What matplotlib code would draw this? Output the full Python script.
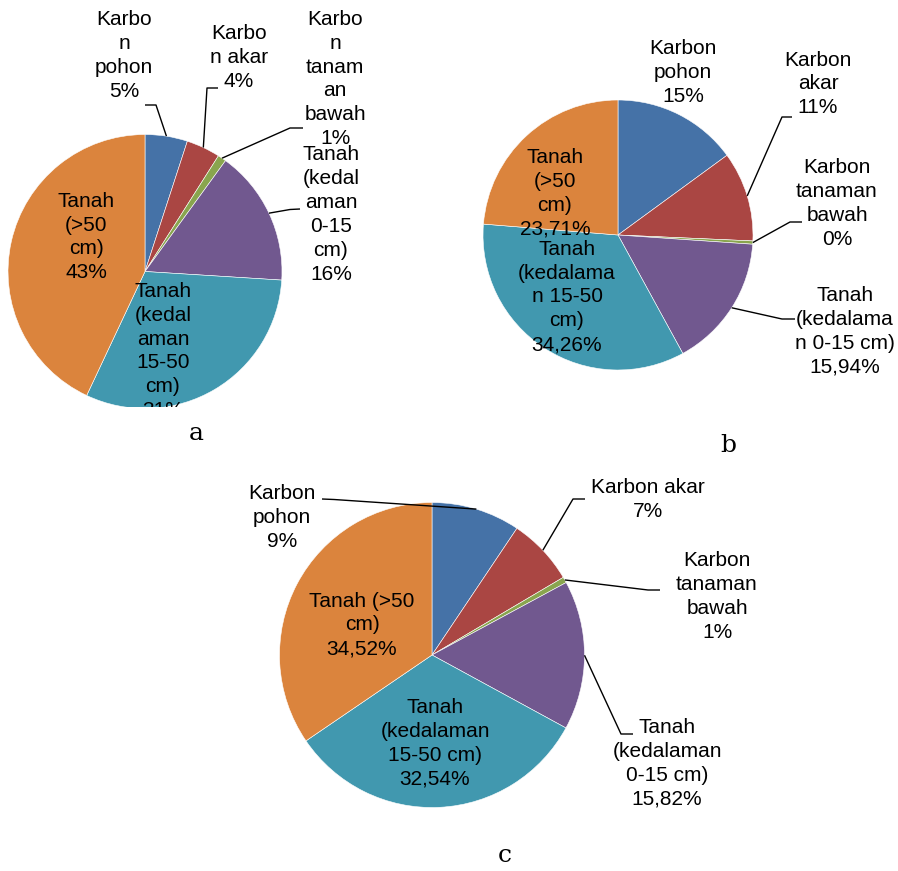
import matplotlib
matplotlib.use("Agg")
import matplotlib.pyplot as plt
from matplotlib.transforms import Bbox, TransformedBbox
import numpy as np

W, H = 898, 871
plt.rcParams['font.family'] = ['Liberation Sans', 'DejaVu Sans']

colors = ['#4572A7', '#AA4643', '#89A54E', '#71588F', '#4198AF', '#DB843D']

# --- data -------------------------------------------------------------
values_a = [5, 4, 1, 16, 31, 43]
values_b = [14.95, 10.75, 0.39, 15.94, 34.26, 23.71]
values_c = [9.4, 7.1, 0.62, 15.82, 32.54, 34.52]

decimals_a = [0, 0, 0, 0, 0, 0]
decimals_b = [0, 0, 0, 2, 2, 2]
decimals_c = [0, 0, 0, 2, 2, 2]

names_a = ["Karbo\nn\npohon", "Karbo\nn akar", "Karbo\nn\ntanam\nan\nbawah",
           "Tanah\n(kedal\naman\n0-15\ncm)", "Tanah\n(kedal\naman\n15-50\ncm)",
           "Tanah\n(>50\ncm)"]
names_b = ["Karbon\npohon", "Karbon\nakar", "Karbon\ntanaman\nbawah",
           "Tanah\n(kedalama\nn 0-15 cm)", "Tanah\n(kedalama\nn 15-50\ncm)",
           "Tanah\n(>50\ncm)"]
names_c = ["Karbon\npohon", "Karbon akar", "Karbon\ntanaman\nbawah",
           "Tanah\n(kedalaman\n0-15 cm)", "Tanah\n(kedalaman\n15-50 cm)",
           "Tanah (>50\ncm)"]

# --- layout (pixel coordinates, y measured from the top) ---------------
pies = [
    dict(vals=values_a, dec=decimals_a, names=names_a, center=(145, 271.5), r=137,
         pos=[(124, 55.5), (239, 57.5), (335, 79), (331, 214.5), (163, 351), (86, 237)],
         elbow={0: [(145, 105), (156, 105)], 1: [(218, 88), (207, 88)],
                2: [(303, 128), (290, 128)], 3: [(300, 209), (290, 209.5)]},
         clip_bottom=407, tag=('a', 196, 434)),
    dict(vals=values_b, dec=decimals_b, names=names_b, center=(618, 235), r=135,
         pos=[(683, 72.5), (818, 84), (837, 203.5), (845, 331.5), (567, 297), (555, 193.5)],
         elbow={1: [(792, 117), (782, 117)], 2: [(802, 222), (790, 222)],
                3: [(795, 319), (782, 319)]},
         clip_bottom=None, tag=('b', 728, 446)),
    dict(vals=values_c, dec=decimals_c, names=names_c, center=(432, 655), r=152.5,
         pos=[(282, 517.5), (648, 499.5), (717, 596.5), (667, 763.5), (435, 743.5), (362, 625)],
         elbow={0: [(322, 499), (334, 499.5)], 1: [(585, 499), (573, 499)],
                2: [(660, 590), (648, 590)], 3: [(633, 734), (621, 734)]},
         clip_bottom=None, tag=('c', 505, 855)),
]

fig = plt.figure(figsize=(W / 100, H / 100), dpi=100)
ax = fig.add_axes([0, 0, 1, 1])


def fy(y):
    return H - y


def fmt(v, d):
    return (f"{v:.{d}f}").replace('.', ',') + "%"


for p in pies:
    cx, cy = p['center']
    r = p['r']
    wedges, _ = ax.pie(p['vals'], colors=colors, startangle=90, counterclock=False,
                       center=(cx, fy(cy)), radius=r,
                       wedgeprops=dict(edgecolor='white', linewidth=0.4))
    artists = list(wedges)

    # leader lines from label to rim at each wedge's mid angle
    cum = np.cumsum([0] + list(p['vals']))
    total = cum[-1]
    for i, pts in p['elbow'].items():
        mid = (cum[i] + cum[i + 1]) / 2 / total * 2 * np.pi
        rim = (cx + r * np.sin(mid), fy(cy) + r * np.cos(mid))
        xs = [q[0] for q in pts] + [rim[0]]
        ys = [fy(q[1]) for q in pts] + [rim[1]]
        ln, = ax.plot(xs, ys, color='black', lw=1.0, solid_capstyle='butt', zorder=3)
        artists.append(ln)

    for i, (name, v, d) in enumerate(zip(p['names'], p['vals'], p['dec'])):
        x, y = p['pos'][i]
        t = ax.text(x, fy(y), f"{name}\n{fmt(v, d)}", ha='center', va='center',
                    multialignment='center', fontsize=15, color='black',
                    linespacing=1.33, zorder=4)
        artists.append(t)

    if p['clip_bottom'] is not None:
        box = TransformedBbox(Bbox([[0, fy(p['clip_bottom'])], [W, H]]), ax.transData)
        for a in artists:
            a.set_clip_box(box)
            a.set_clip_on(True)

    lab, lx, ly = p['tag']
    ax.text(lx, fy(ly), lab, ha='center', va='center', fontsize=18,
            family='DejaVu Serif', color='black')

ax.set_xlim(0, W)
ax.set_ylim(0, H)
ax.set_aspect('auto')
ax.axis('off')

fig.savefig('out.png', dpi=100, facecolor='white')
